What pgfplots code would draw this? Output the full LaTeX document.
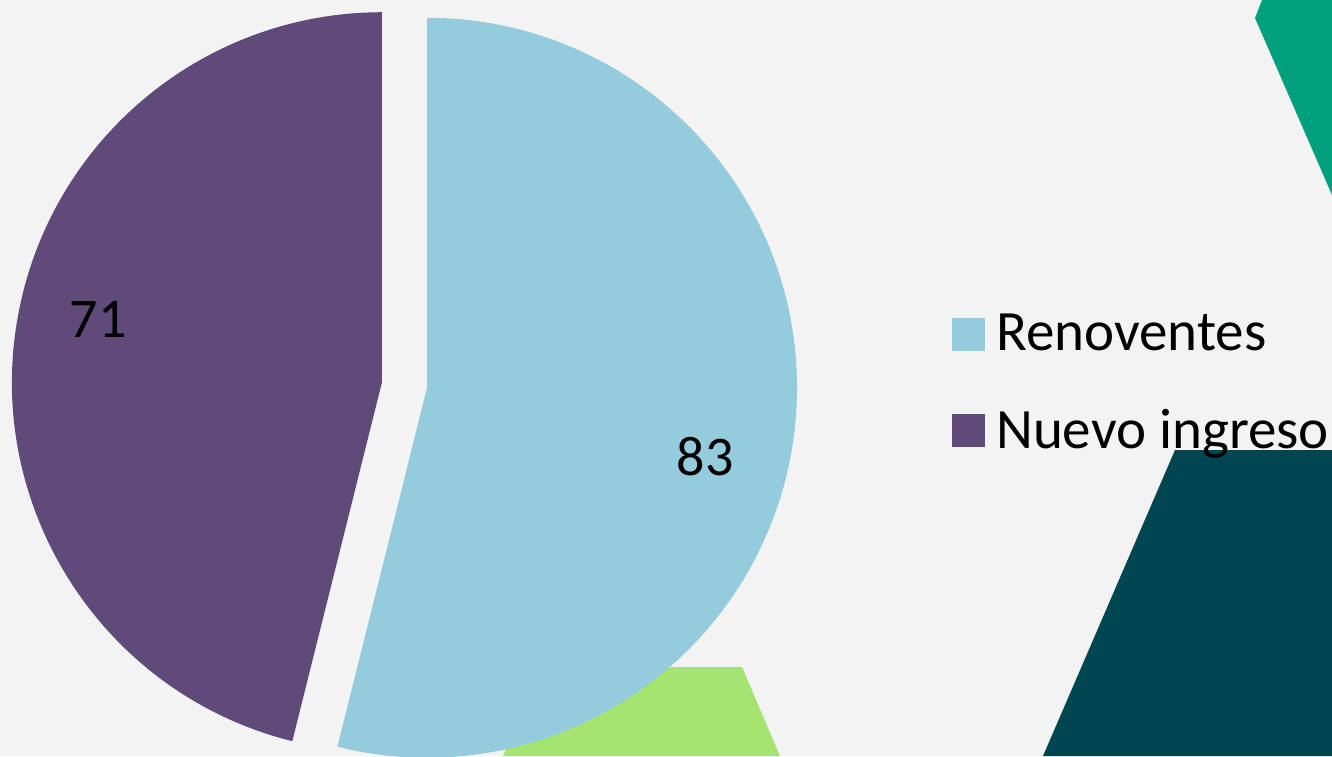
\documentclass[border=0pt]{standalone}
\usepackage{pgfplots}
\pgfplotsset{compat=1.18}
\usepackage{pgfplotstable}
\usepackage{fontspec}
\setmainfont{Carlito}

\definecolor{bgc}{HTML}{F3F3F3}
\definecolor{renov}{HTML}{95CCDD}
\definecolor{nuevo}{HTML}{5F4A7A}
\definecolor{teal1}{HTML}{00A07E}
\definecolor{dark1}{HTML}{004650}
\definecolor{lgreen}{HTML}{A6E472}

% pie data
\pgfplotstableread{
label value
Renoventes 83
{Nuevo ingreso} 71
}\piedata

\begin{document}
\begin{tikzpicture}
\pgfplotstablegetelem{0}{value}\of\piedata \let\va\pgfplotsretval
\pgfplotstablegetelem{1}{value}\of\piedata \let\vb\pgfplotsretval
\pgfmathsetmacro\angA{360*(\va/(\va+\vb))}
\pgfmathsetmacro\endA{90-\angA}
\pgfmathsetmacro\bis{90-\angA/2}
% exploded centres
\pgfmathsetmacro\bx{404.5+22.7*cos(\bis)}
\pgfmathsetmacro\by{371+22.7*sin(\bis)}
\pgfmathsetmacro\px{404.5-22.7*cos(\bis)}
\pgfmathsetmacro\py{371-22.7*sin(\bis)}
\def\R{185pt}
\begin{axis}[
    x=0.5pt, y=0.5pt,
    xmin=0, xmax=1332, ymin=0, ymax=756,
    hide axis, clip=true,
    legend style={draw=none, fill=none,
        font=\fontsize{28.5}{34}\selectfont,
        at={(axis cs:952,446)}, anchor=north west,
        row sep=23.5pt, inner sep=0pt,
        cells={anchor=west},
        /tikz/every odd column/.append style={column sep=3.5pt}},
    legend image code/.code={\fill[#1] (0pt,-8pt) rectangle (16pt,8pt);},
]
\coordinate (ll) at (axis cs:0,0);
\coordinate (ur) at (axis cs:1332,756);
\fill[bgc] (axis cs:0,0) rectangle (axis cs:1332,756);
\fill[teal1] (axis cs:1262,756) -- (axis cs:1255,738) -- (axis cs:1332,561) -- (axis cs:1332,756) -- cycle;
\fill[lgreen] (axis cs:540,89) -- (axis cs:742,89) -- (axis cs:780,0) -- (axis cs:503,0) -- cycle;
\fill[dark1] (axis cs:1175,306) -- (axis cs:1332,306) -- (axis cs:1332,0) -- (axis cs:1043,0) -- cycle;

\fill[renov] (axis cs:\bx,\by) -- ++(90:\R) arc[start angle=90, end angle=\endA, radius=\R] -- cycle;
\fill[nuevo] (axis cs:\px,\py) -- ++(\endA:\R) arc[start angle=\endA, end angle=-270, radius=\R] -- cycle;

\node[anchor=base, font=\fontsize{28}{34}\selectfont] at (axis cs:98,418) {\vb};
\node[anchor=base, font=\fontsize{28}{34}\selectfont] at (axis cs:705,281) {\va};

\addlegendimage{renov}
\addlegendentry{Renoventes}
\addlegendimage{nuevo}
\addlegendentry{Nuevo ingreso}
\end{axis}
\pgfresetboundingbox
\useasboundingbox (ll) rectangle (ur);
\end{tikzpicture}
\end{document}
